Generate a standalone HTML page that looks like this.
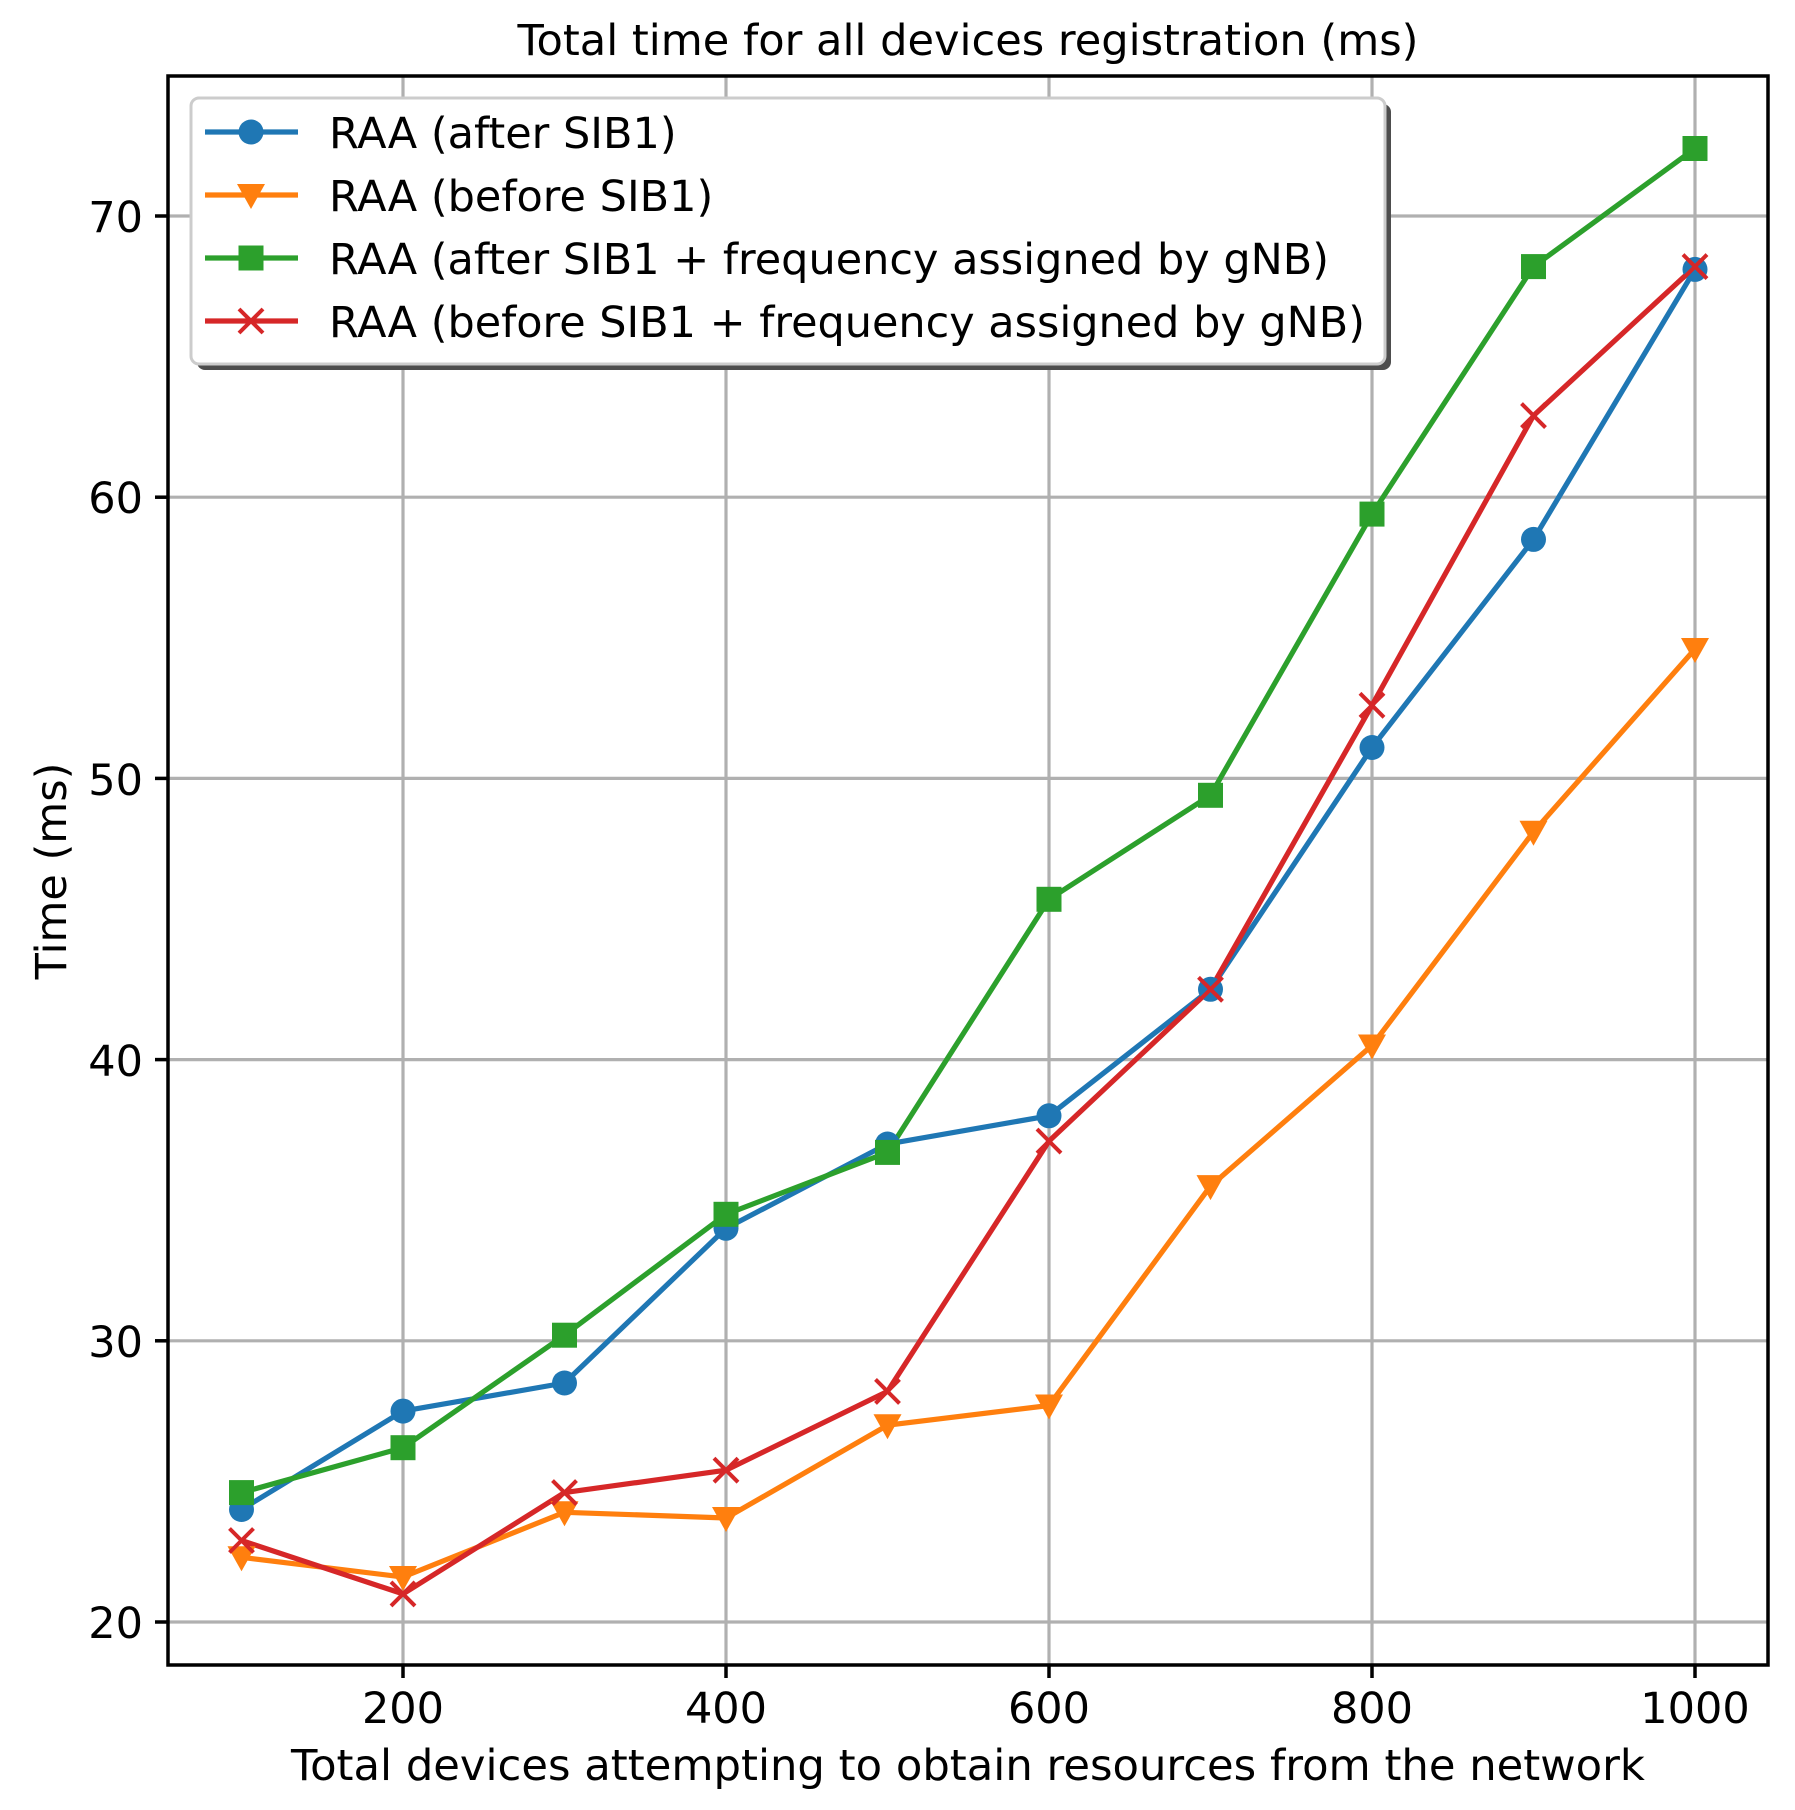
<!DOCTYPE html>
<html><head><meta charset="utf-8"><style>html,body{margin:0;padding:0;background:#fff}svg{display:block}</style></head><body>
<svg width="1795" height="1810" viewBox="0 0 1795 1810" xmlns="http://www.w3.org/2000/svg" font-family="DejaVu Sans, Liberation Sans, sans-serif">
<rect width="1795" height="1810" fill="#fff"/>
<g stroke="#b0b0b0" stroke-width="3.2">
<line x1="403" y1="76" x2="403" y2="1665"/><line x1="726" y1="76" x2="726" y2="1665"/><line x1="1049" y1="76" x2="1049" y2="1665"/><line x1="1372" y1="76" x2="1372" y2="1665"/><line x1="1695" y1="76" x2="1695" y2="1665"/>
<line x1="168" y1="1622" x2="1768" y2="1622"/><line x1="168" y1="1340.8" x2="1768" y2="1340.8"/><line x1="168" y1="1059.6" x2="1768" y2="1059.6"/><line x1="168" y1="778.4" x2="1768" y2="778.4"/><line x1="168" y1="497.2" x2="1768" y2="497.2"/><line x1="168" y1="216" x2="1768" y2="216"/>
</g>
<defs>
<circle id="mc" r="12.5" fill="#1f77b4"/>
<path id="mt" d="M-14,-11 L14,-11 L0,14 Z" fill="#ff7f0e"/>
<rect id="ms" x="-12.5" y="-12.5" width="25" height="25" fill="#2ca02c"/>
<path id="mx" d="M-12,-12 L12,12 M-12,12 L12,-12" stroke="#d62728" stroke-width="4"/>
</defs>
<g fill="none" stroke-width="5.2" stroke-linejoin="round">
<polyline stroke="#1f77b4" points="241.5,1509.5 403,1411.1 564.5,1383 726,1228.3 887.5,1144 1049,1115.8 1210.5,989.3 1372,747.5 1533.5,539.4 1695,269.4"/>
<polyline stroke="#ff7f0e" points="241.5,1557.3 403,1577 564.5,1512.3 726,1518 887.5,1425.2 1049,1405.5 1210.5,1186.1 1372,1045.5 1533.5,831.8 1695,649"/>
<polyline stroke="#2ca02c" points="241.5,1492.6 403,1447.7 564.5,1335.2 726,1214.3 887.5,1152.4 1049,899.3 1210.5,795.3 1372,514.1 1533.5,266.6 1695,148.5"/>
<polyline stroke="#d62728" points="241.5,1540.5 403,1593.9 564.5,1492.6 726,1470.2 887.5,1391.4 1049,1141.1 1210.5,989.3 1372,705.3 1533.5,415.6 1695,266.6"/>
</g>
<g>
<use href="#mc" x="241.5" y="1509.5"/><use href="#mc" x="403" y="1411.1"/><use href="#mc" x="564.5" y="1383"/><use href="#mc" x="726" y="1228.3"/><use href="#mc" x="887.5" y="1144"/><use href="#mc" x="1049" y="1115.8"/><use href="#mc" x="1210.5" y="989.3"/><use href="#mc" x="1372" y="747.5"/><use href="#mc" x="1533.5" y="539.4"/><use href="#mc" x="1695" y="269.4"/>
<use href="#mt" x="241.5" y="1557.3"/><use href="#mt" x="403" y="1577"/><use href="#mt" x="564.5" y="1512.3"/><use href="#mt" x="726" y="1518"/><use href="#mt" x="887.5" y="1425.2"/><use href="#mt" x="1049" y="1405.5"/><use href="#mt" x="1210.5" y="1186.1"/><use href="#mt" x="1372" y="1045.5"/><use href="#mt" x="1533.5" y="831.8"/><use href="#mt" x="1695" y="649"/>
<use href="#ms" x="241.5" y="1492.6"/><use href="#ms" x="403" y="1447.7"/><use href="#ms" x="564.5" y="1335.2"/><use href="#ms" x="726" y="1214.3"/><use href="#ms" x="887.5" y="1152.4"/><use href="#ms" x="1049" y="899.3"/><use href="#ms" x="1210.5" y="795.3"/><use href="#ms" x="1372" y="514.1"/><use href="#ms" x="1533.5" y="266.6"/><use href="#ms" x="1695" y="148.5"/>
<use href="#mx" x="241.5" y="1540.5"/><use href="#mx" x="403" y="1593.9"/><use href="#mx" x="564.5" y="1492.6"/><use href="#mx" x="726" y="1470.2"/><use href="#mx" x="887.5" y="1391.4"/><use href="#mx" x="1049" y="1141.1"/><use href="#mx" x="1210.5" y="989.3"/><use href="#mx" x="1372" y="705.3"/><use href="#mx" x="1533.5" y="415.6"/><use href="#mx" x="1695" y="266.6"/>
</g>
<rect x="168" y="76" width="1600" height="1589" fill="none" stroke="#000" stroke-width="3.5"/>
<g stroke="#000" stroke-width="3.5">
<line x1="403" y1="1665" x2="403" y2="1678"/><line x1="726" y1="1665" x2="726" y2="1678"/><line x1="1049" y1="1665" x2="1049" y2="1678"/><line x1="1372" y1="1665" x2="1372" y2="1678"/><line x1="1695" y1="1665" x2="1695" y2="1678"/>
<line x1="155" y1="1622" x2="168" y2="1622"/><line x1="155" y1="1340.8" x2="168" y2="1340.8"/><line x1="155" y1="1059.6" x2="168" y2="1059.6"/><line x1="155" y1="778.4" x2="168" y2="778.4"/><line x1="155" y1="497.2" x2="168" y2="497.2"/><line x1="155" y1="216" x2="168" y2="216"/>
</g>
<g font-size="43" fill="#000">
<g text-anchor="middle">
<text x="403" y="1723">200</text><text x="726" y="1723">400</text><text x="1049" y="1723">600</text><text x="1372" y="1723">800</text><text x="1695" y="1723">1000</text>
</g>
<g text-anchor="end">
<text x="143" y="1638">20</text><text x="143" y="1357">30</text><text x="143" y="1076">40</text><text x="143" y="795">50</text><text x="143" y="513">60</text><text x="143" y="232">70</text>
</g>
<text x="968" y="1780" text-anchor="middle" textLength="1354" lengthAdjust="spacingAndGlyphs">Total devices attempting to obtain resources from the network</text>
<text x="968" y="55" text-anchor="middle" textLength="901" lengthAdjust="spacingAndGlyphs">Total time for all devices registration (ms)</text>
<text transform="translate(66,871) rotate(-90)" text-anchor="middle">Time (ms)</text>
</g>
<rect x="197" y="104" width="1194" height="266" rx="8" fill="#4d4d4d"/>
<rect x="191" y="98" width="1194" height="266" rx="8" fill="#fff" stroke="#cccccc" stroke-width="3"/>
<g stroke-width="5.2">
<line x1="205" y1="132" x2="298" y2="132" stroke="#1f77b4"/>
<line x1="205" y1="195" x2="298" y2="195" stroke="#ff7f0e"/>
<line x1="205" y1="258" x2="298" y2="258" stroke="#2ca02c"/>
<line x1="205" y1="321" x2="298" y2="321" stroke="#d62728"/>
</g>
<use href="#mc" x="251" y="132"/><use href="#mt" x="251" y="195"/><use href="#ms" x="251" y="258"/><use href="#mx" x="251" y="321"/>
<g font-size="43" fill="#000">
<text x="329" y="148">RAA (after SIB1)</text>
<text x="329" y="211">RAA (before SIB1)</text>
<text x="329" y="274" textLength="1000" lengthAdjust="spacingAndGlyphs">RAA (after SIB1 + frequency assigned by gNB)</text>
<text x="329" y="337" textLength="1036" lengthAdjust="spacingAndGlyphs">RAA (before SIB1 + frequency assigned by gNB)</text>
</g>
</svg>
</body></html>
